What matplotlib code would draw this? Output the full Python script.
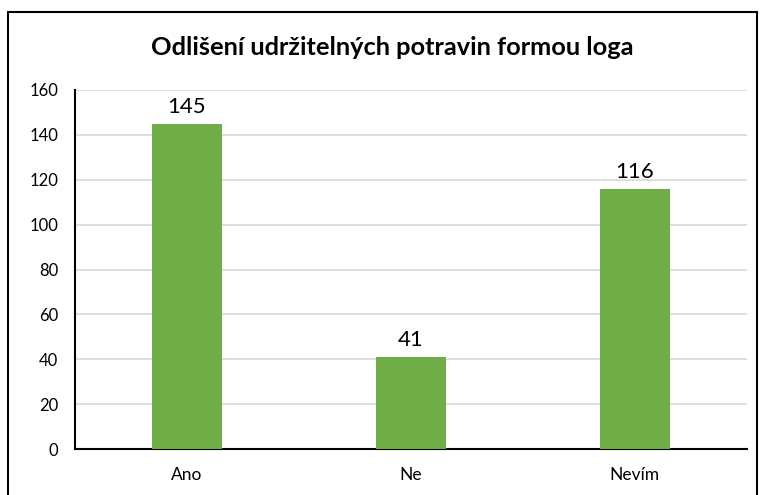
import matplotlib.pyplot as plt
from matplotlib.patches import Rectangle

categories = ['Ano', 'Ne', 'Nevím']
values = [145, 41, 116]
yticks = [0, 20, 40, 60, 80, 100, 120, 140, 160]

plt.rcParams['font.family'] = ['Lato', 'DejaVu Sans']

fig = plt.figure(figsize=(7.6, 4.95), dpi=100)
ax = fig.add_axes([0.0987, 0.0929, 0.884, 0.7253])

x = range(len(categories))
bars = ax.bar(x, values, width=0.31, color='#70AD47', zorder=3)
for b, v in zip(bars, values):
    ax.text(b.get_x() + b.get_width() / 2, v + 3, str(v),
            ha='center', va='bottom', fontsize=16, color='black')

ax.set_xlim(-0.5, len(categories) - 0.5)
ax.set_ylim(0, 160)
ax.set_yticks(yticks)
ax.set_xticks(list(x))
ax.set_xticklabels(categories, fontsize=12.5)
ax.tick_params(axis='y', length=0, labelsize=12, pad=12)
ax.tick_params(axis='x', length=0, pad=13)
ax.grid(axis='y', color='#D9D9D9', linewidth=1.2, zorder=0)

for s in ['top', 'right']:
    ax.spines[s].set_visible(False)
ax.spines['left'].set_color('black')
ax.spines['bottom'].set_color('black')
ax.spines['left'].set_linewidth(1.5)
ax.spines['bottom'].set_linewidth(1.5)

fig.text(0.516, 0.905, 'Odlišení udržitelných potravin formou loga',
         ha='center', va='center', fontsize=18.3, fontweight='bold')

fig.patches.append(Rectangle((0.011, -0.05), 0.985, 1.026, transform=fig.transFigure,
                             fill=False, edgecolor='black', linewidth=1.5))

fig.savefig('out.png', dpi=100)
